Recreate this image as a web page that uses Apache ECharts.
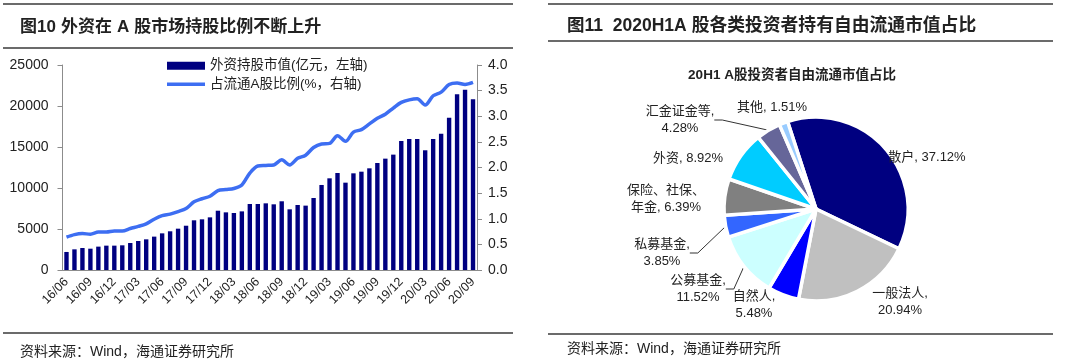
<!DOCTYPE html>
<html><head><meta charset="utf-8">
<script src="https://cdn.jsdelivr.net/npm/echarts@6/dist/echarts.min.js"></script>
<style>html,body{margin:0;padding:0;background:#fff}#c{width:1080px;height:361px}</style>
</head><body><div id="c"></div>
<script>
const months = ['16/06','16/07','16/08','16/09','16/10','16/11','16/12','17/01','17/02','17/03','17/04','17/05','17/06','17/07','17/08','17/09','17/10','17/11','17/12','18/01','18/02','18/03','18/04','18/05','18/06','18/07','18/08','18/09','18/10','18/11','18/12','19/01','19/02','19/03','19/04','19/05','19/06','19/07','19/08','19/09','19/10','19/11','19/12','20/01','20/02','20/03','20/04','20/05','20/06','20/07','20/08','20/09'];
const holdValue = [2200,2520,2680,2600,2850,2970,2970,3010,3290,3540,3740,4070,4470,4720,5040,5400,6060,6180,6420,7230,7030,6950,7150,8050,8050,8130,8010,8380,7400,7930,7850,8780,10370,11180,11830,10650,11790,11990,12400,13050,13580,14070,15730,15980,15980,14600,15980,16630,18580,21430,21990,20820];
const holdRatio = [0.64,0.69,0.71,0.70,0.74,0.74,0.76,0.76,0.81,0.85,0.90,0.99,1.06,1.09,1.14,1.20,1.33,1.39,1.44,1.55,1.57,1.59,1.66,1.89,2.03,2.04,2.05,2.15,2.05,2.18,2.24,2.39,2.46,2.47,2.62,2.51,2.69,2.74,2.85,2.96,3.04,3.16,3.27,3.32,3.34,3.22,3.40,3.47,3.62,3.65,3.62,3.66];
const leftTicks = [0, 25000, 5000];
const rightTicks = [0, 4, 0.5];
const seriesNames = ['外资持股市值(亿元，左轴)', '占流通A股比例(%，右轴)'];

const pieNames = ['散户','一般法人','自然人','公募基金','私募基金','保险、社保、年金','外资','汇金证金等','其他'];
const pieValues = [37.12,20.94,5.48,11.52,3.85,6.39,8.92,4.28,1.51];
const pieLabelText = ['散户, 37.12%','一般法人,\n20.94%','自然人,\n5.48%','公募基金,\n11.52%','私募基金,\n3.85%','保险、社保、\n年金, 6.39%','外资, 8.92%','汇金证金等,\n4.28%','其他, 1.51%'];

// styling / layout (not data)
const pieColors = ['#000080','#c0c0c0','#0000ff','#ccffff','#3366ff','#808080','#00ccff','#666699','#99ccff'];
const pieLabelPos = [[927,157],[900,302],[754,305],[698,289],[662,253],[666,199],[688,158],[680,120],[772,107]];
const pieLeader = [false,false,false,true,true,false,false,true,false];

const FONT = "'Liberation Sans', Arial, 'Noto Sans CJK SC', sans-serif";
const TXT = '#222';
const LINE_BLUE = '#3d6ef2';

const chart = echarts.init(document.getElementById('c'), null, {renderer:'canvas'});
const hline = (x1,x2,y)=>({type:'line', shape:{x1,y1:y,x2,y2:y}, style:{stroke:'#3a3a3a', lineWidth:1.5}, silent:true});

chart.setOption({
  animation:false,
  textStyle:{fontFamily:FONT},
  title:[
    {text:'{b|图10} {n|外资在} {b|A} {n|股市场持股比例不断上升}', left:15, top:13,
     textStyle:{rich:{b:{fontSize:17,fontWeight:'bold',color:TXT,fontFamily:FONT},n:{fontSize:17,color:TXT,fontFamily:FONT}}}},
    {text:'{b|图11  2020H1A} {n|股各类投资者持有自由流通市值占比}', left:562, top:12,
     textStyle:{rich:{b:{fontSize:17.5,fontWeight:'bold',color:TXT,fontFamily:FONT},n:{fontSize:17.8,color:TXT,fontFamily:FONT}}}},
    {text:'20H1 A股投资者自由流通市值占比', left:787, top:64, textAlign:'center',
     textStyle:{fontSize:13.5,fontWeight:'bold',color:TXT,fontFamily:FONT}},
    {text:'资料来源：Wind，海通证券研究所', left:15, top:340, textStyle:{fontSize:14,fontWeight:'normal',color:TXT,fontFamily:FONT}},
    {text:'资料来源：Wind，海通证券研究所', left:562, top:337, textStyle:{fontSize:14,fontWeight:'normal',color:TXT,fontFamily:FONT}}
  ],
  graphic:[hline(3,513,4), hline(3,513,48), hline(3,513,333), hline(548,1053,4), hline(548,1053,41), hline(548,1053,334)],
  legend:{orient:'vertical', left:162, top:54, itemWidth:38, itemHeight:8, itemGap:5,
    textStyle:{fontSize:13.5,color:TXT,fontFamily:FONT},
    data:[
      {name:seriesNames[0], icon:'rect', itemStyle:{color:'#000080'}},
      {name:seriesNames[1], icon:'path://M0,0M38,8M0,2.2h38v3.6h-38z', itemStyle:{color:LINE_BLUE, borderWidth:0}}
    ]},
  grid:{left:62.5, right:603, top:65, bottom:91},
  xAxis:{type:'category', data:months, boundaryGap:true,
    axisLine:{lineStyle:{color:'#8c8c8c',width:1}},
    axisTick:{interval:2, length:5, lineStyle:{color:'#8c8c8c'}},
    axisLabel:{interval:2, rotate:45, fontSize:12.5, color:TXT, margin:10, fontFamily:FONT}},
  yAxis:[
    {type:'value', min:leftTicks[0], max:leftTicks[1], interval:leftTicks[2], splitLine:{show:false},
     axisLine:{show:true,lineStyle:{color:'#8c8c8c'}}, axisTick:{show:true,length:5,lineStyle:{color:'#8c8c8c'}},
     axisLabel:{fontSize:14,color:TXT,margin:14,fontFamily:FONT,formatter:v=>String(v)}},
    {type:'value', min:rightTicks[0], max:rightTicks[1], interval:rightTicks[2], splitLine:{show:false},
     axisLine:{show:true,lineStyle:{color:'#8c8c8c'}}, axisTick:{show:true,length:5,lineStyle:{color:'#8c8c8c'}},
     axisLabel:{fontSize:14,color:TXT,margin:11,fontFamily:FONT,formatter:v=>v.toFixed(1)}}
  ],
  series:[
    {name:seriesNames[0], type:'bar', data:holdValue, yAxisIndex:0, barWidth:'55%', itemStyle:{color:'#000080'}},
    {name:seriesNames[1], type:'line', data:holdRatio, yAxisIndex:1, smooth:0.3, symbol:'none',
     lineStyle:{color:LINE_BLUE, width:3.5}, itemStyle:{color:LINE_BLUE}},
    {type:'pie', center:[816,209], radius:92, startAngle:108, clockwise:true,
     itemStyle:{borderColor:'#fff', borderWidth:3.5},
     label:{show:true, position:'outside', fontSize:13, color:TXT, fontFamily:FONT, lineHeight:17,
       formatter:p=>pieLabelText[p.dataIndex]},
     labelLine:{show:false, length:8, length2:8, lineStyle:{color:'#333',width:1}},
     labelLayout:p=>({x:pieLabelPos[p.dataIndex][0], y:pieLabelPos[p.dataIndex][1], align:'center', verticalAlign:'middle'}),
     data:pieNames.map((n,i)=>({name:n, value:pieValues[i], itemStyle:{color:pieColors[i]}, labelLine:{show:pieLeader[i]}}))
    }
  ]
});
</script></body></html>
